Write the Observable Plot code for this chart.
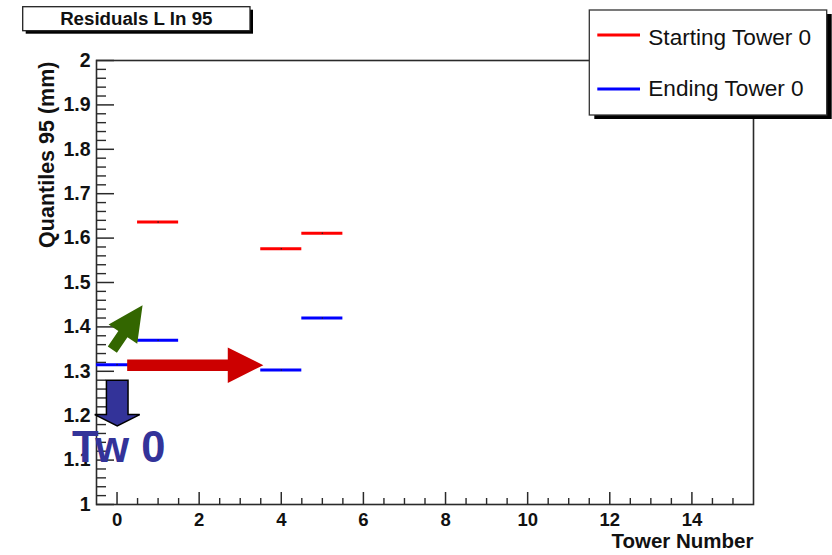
<!DOCTYPE html>
<html>
<head>
<meta charset="utf-8">
<script src="https://cdn.jsdelivr.net/npm/d3@7"></script>
<script src="https://cdn.jsdelivr.net/npm/@observablehq/plot@0.6"></script>
<style>
  html, body { margin: 0; padding: 0; background: #fff; }
  #chart { position: relative; width: 832px; height: 555px; font-family: "Liberation Sans", Arial, Helvetica, sans-serif; }
  #chart svg.overlay { position: absolute; left: 0; top: 0; pointer-events: none; }
</style>
</head>
<body>
<div id="chart"></div>
<script>
// Tower bins (bin centres, unit width) and the 95% quantile of the L residuals per tower
const towerBins      = [0, 1, 2, 3, 4, 5, 6, 7, 8, 9, 10, 11, 12, 13, 14, 15];
const startingTower0 = [0, 1.636, 0, 0, 1.576, 1.611, 0, 0, 0, 0, 0, 0, 0, 0, 0, 0];
const endingTower0   = [1.315, 1.370, 0, 0, 1.303, 1.420, 0, 0, 0, 0, 0, 0, 0, 0, 0, 0];

const seriesNames  = ["Starting Tower 0", "Ending Tower 0"];
const seriesColors = ["#ff0000", "#0000ff"];

const xTickValues = [0, 2, 4, 6, 8, 10, 12, 14];
const xTickLabels = ["0", "2", "4", "6", "8", "10", "12", "14"];
const yTickValues = [1, 1.1, 1.2, 1.3, 1.4, 1.5, 1.6, 1.7, 1.8, 1.9, 2];
const yTickLabels = ["1", "1.1", "1.2", "1.3", "1.4", "1.5", "1.6", "1.7", "1.8", "1.9", "2"];

const titleText  = "Residuals L In 95";
const xTitle     = "Tower Number";
const yTitle     = "Quantiles 95 (mm)";
const towerLabel = "Tw 0";

// Long table: one row per bin per series
const rows = [];
[startingTower0, endingTower0].forEach((values, s) => {
  values.forEach((v, i) => rows.push({tower: towerBins[i], value: v, series: seriesNames[s]}));
});

const FONT = '"Liberation Sans", Arial, Helvetica, sans-serif';
const AXIS = "#2a2a2a";

// Minor tick positions (axis decoration only)
const yMinor = d3.range(1, 2.0001, 0.02).filter(v => Math.abs(v * 10 - Math.round(v * 10)) > 1e-6);
const xMinor = d3.range(0.5, 15.01, 0.5).filter(v => Math.abs(v / 2 - Math.round(v / 2)) > 1e-6);

// Filled block arrow drawn in data space through the plot scales
function blockArrow(sx, sy, a) {
  const x0 = sx(a.from[0]), y0 = sy(a.from[1]);
  const x1 = sx(a.to[0]),   y1 = sy(a.to[1]);
  const len = Math.hypot(x1 - x0, y1 - y0);
  const ux = (x1 - x0) / len, uy = (y1 - y0) / len;
  const nx = -uy, ny = ux;
  const bx = x1 - ux * a.headLen, by = y1 - uy * a.headLen;
  const pts = [
    [x0 + nx * a.body, y0 + ny * a.body],
    [bx + nx * a.body, by + ny * a.body],
    [bx + nx * a.head, by + ny * a.head],
    [x1, y1],
    [bx - nx * a.head, by - ny * a.head],
    [bx - nx * a.body, by - ny * a.body],
    [x0 - nx * a.body, y0 - ny * a.body]
  ];
  return pts.map(p => p.join(",")).join(" ");
}

const arrowMark = (index, scales) => {
  const arrows = [
    {from: [-0.102, 1.3475], to: [0.634, 1.4478], body: 5.5, head: 17.3, headLen: 35, fill: "#336600", stroke: "none"},
    {from: [0.259, 1.3126], to: [3.576, 1.3126], body: 5.8, head: 17.7, headLen: 35.6, fill: "#cc0000", stroke: "none"},
    {from: [0.017, 1.2788], to: [0.017, 1.1758], body: 10.8, head: 22.5, headLen: 11.4, fill: "#333399", stroke: "#000"}
  ];
  const g = d3.create("svg:g");
  for (const a of arrows) {
    g.append("polygon")
      .attr("points", blockArrow(scales.x, scales.y, a))
      .attr("fill", a.fill)
      .attr("stroke", a.stroke)
      .attr("stroke-width", 1.5)
      .attr("stroke-linejoin", "miter");
  }
  return g.node();
};

const plot = Plot.plot({
  width: 832,
  height: 555,
  marginLeft: 96,
  marginRight: 79,
  marginTop: 60,
  marginBottom: 51,
  style: {fontFamily: FONT, background: "#fff", color: AXIS},
  x: {domain: [-0.5, 15.5]},
  y: {domain: [1, 2]},
  color: {domain: seriesNames, range: seriesColors},
  marks: [
    // minor ticks (inward)
    Plot.axisY({ticks: yMinor, tickSize: -10, fill: "none", label: null, stroke: AXIS, strokeWidth: 1.4}),
    Plot.axisX({ticks: xMinor, tickSize: -6, fill: "none", label: null, stroke: AXIS, strokeWidth: 1.4}),
    // major ticks with labels
    Plot.axisY({
      ticks: yTickValues, tickSize: -18, tickPadding: 24, label: null,
      tickFormat: d => yTickLabels[yTickValues.findIndex(v => Math.abs(v - d) < 1e-9)],
      fontSize: 19.5, fontWeight: "bold", stroke: AXIS, strokeWidth: 1.5, fill: "#111"
    }),
    Plot.axisX({
      ticks: xTickValues, tickSize: -12, tickPadding: 20, label: null,
      tickFormat: d => xTickLabels[xTickValues.indexOf(d)],
      fontSize: 18.5, fontWeight: "bold", stroke: AXIS, strokeWidth: 1.5, fill: "#111"
    }),
    Plot.frame({stroke: AXIS, strokeWidth: 1.6}),
    // histogram bin contents as horizontal segments
    Plot.ruleY(rows, {
      y: "value",
      x1: d => d.tower - 0.5,
      x2: d => d.tower + 0.5,
      stroke: "series",
      strokeWidth: 3,
      clip: true
    }),
    Plot.dot(rows, {x: "tower", y: "value", r: 0.8, fill: "#222", stroke: null, clip: true}),
    // axis titles
    Plot.text([yTitle], {
      text: d => d, frameAnchor: "top-left", rotate: -90, textAnchor: "end",
      lineAnchor: "bottom", dx: -43, dy: 1, fontSize: 21.5, fontWeight: "bold", fill: "#111"
    }),
    Plot.text([xTitle], {
      text: d => d, frameAnchor: "bottom-right", textAnchor: "end",
      lineAnchor: "bottom", dy: 43, fontSize: 20.5, fontWeight: "bold", fill: "#111"
    }),
    // annotations
    arrowMark,
    Plot.text([towerLabel], {
      x: () => 0.04, y: () => 1.0947, text: d => d, textAnchor: "middle", lineAnchor: "bottom",
      fontSize: 43.5, fontWeight: "bold", fill: "#333399"
    })
  ]
});

const chart = document.getElementById("chart");
chart.appendChild(plot);

// Title box and legend box, drawn above the frame
const ov = d3.select(chart).append("svg")
  .attr("class", "overlay")
  .attr("width", 832).attr("height", 555)
  .style("font-family", FONT);

// title pave
ov.append("rect").attr("x", 25.7).attr("y", 9.7).attr("width", 227.3).attr("height", 24).attr("fill", "#000");
ov.append("rect").attr("x", 22.7).attr("y", 6.7).attr("width", 227.3).attr("height", 24)
  .attr("fill", "#fff").attr("stroke", "#222").attr("stroke-width", 1.3);
ov.append("text").attr("x", 136.3).attr("y", 24.6).attr("text-anchor", "middle")
  .attr("font-size", 18.7).attr("font-weight", "bold").attr("fill", "#111").text(titleText);

// legend
ov.append("rect").attr("x", 594.3).attr("y", 14).attr("width", 237.4).attr("height", 105).attr("fill", "#000");
ov.append("rect").attr("x", 589.3).attr("y", 10).attr("width", 237.4).attr("height", 105)
  .attr("fill", "#fff").attr("stroke", "#333").attr("stroke-width", 1.3);
const legendLineY = [35, 89];
const legendTextY = [44.5, 95.5];
seriesNames.forEach((name, i) => {
  ov.append("line").attr("x1", 597.3).attr("x2", 640).attr("y1", legendLineY[i]).attr("y2", legendLineY[i])
    .attr("stroke", seriesColors[i]).attr("stroke-width", 3);
  ov.append("text").attr("x", 648.3).attr("y", legendTextY[i])
    .attr("font-size", 22.6).attr("fill", "#111").text(name);
});
</script>
</body>
</html>
